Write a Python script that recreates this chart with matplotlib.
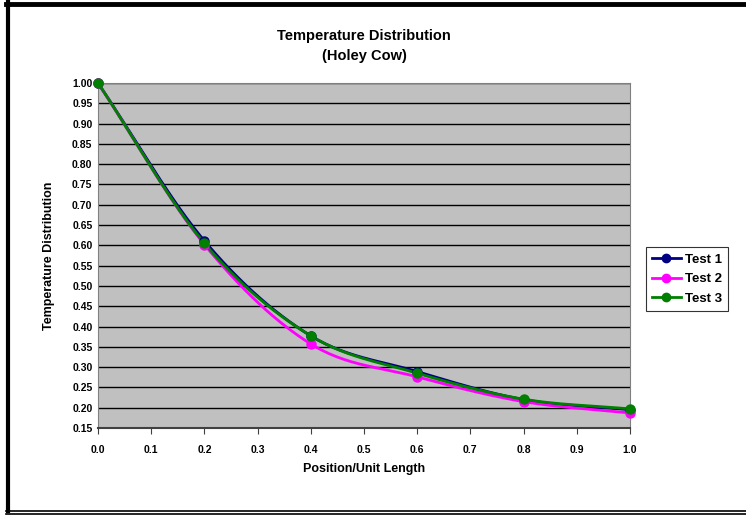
import numpy as np
import matplotlib.pyplot as plt
from matplotlib.lines import Line2D

plt.rcParams['font.family'] = ['Liberation Sans', 'DejaVu Sans']
plt.rcParams['font.weight'] = 'bold'

# data
position = [0.0, 0.2, 0.4, 0.6, 0.8, 1.0]
test1 = [1.000, 0.611, 0.377, 0.289, 0.220, 0.195]
test2 = [1.000, 0.602, 0.357, 0.276, 0.215, 0.187]
test3 = [1.000, 0.605, 0.377, 0.285, 0.221, 0.197]

series = [('Test 1', test1, '#000080'),
          ('Test 2', test2, '#FF00FF'),
          ('Test 3', test3, '#008000')]

yticks = np.arange(0.15, 1.0001, 0.05)
xticks = np.arange(0.0, 1.0001, 0.1)


def smooth(x, y, n=30):
    # excel-like smoothed line (catmull-rom through the points)
    x = np.asarray(x, float)
    y = np.asarray(y, float)
    px = np.concatenate([[2 * x[0] - x[1]], x, [2 * x[-1] - x[-2]]])
    py = np.concatenate([[2 * y[0] - y[1]], y, [2 * y[-1] - y[-2]]])
    xs, ys = [], []
    t = np.linspace(0, 1, n)
    for i in range(1, len(px) - 2):
        for p, out in ((px, xs), (py, ys)):
            p0, p1, p2, p3 = p[i - 1], p[i], p[i + 1], p[i + 2]
            out.extend(0.5 * ((2 * p1) + (-p0 + p2) * t
                              + (2 * p0 - 5 * p1 + 4 * p2 - p3) * t ** 2
                              + (-p0 + 3 * p1 - 3 * p2 + p3) * t ** 3))
    return xs, ys


fig = plt.figure(figsize=(7.46, 5.15), dpi=100)
ax = fig.add_axes([98 / 746, 1 - 428 / 515, 532 / 746, 345 / 515])
ax.set_facecolor('#C0C0C0')

for lbl, vals, col in series:
    sx, sy = smooth(position, vals)
    ax.plot(sx, sy, color=col, lw=2, zorder=3)
    ax.plot(position, vals, 'o', color=col, ms=6.5, zorder=4, clip_on=False)

ax.set_xlim(0, 1.0)
ax.set_ylim(0.15, 1.0)
ax.set_xticks(xticks)
ax.set_xticklabels(['%.1f' % v for v in xticks], fontsize=7.5, fontweight='bold')
ax.set_yticks(yticks)
ax.set_yticklabels(['%.2f' % v for v in yticks], fontsize=7.5, fontweight='bold')
ax.yaxis.grid(True, color='black', lw=1)
ax.set_axisbelow(True)
ax.tick_params(axis='x', length=4, color='#404040', pad=8)
ax.tick_params(axis='y', length=0, pad=4)
for s in ax.spines.values():
    s.set_color('#808080')
ax.spines['bottom'].set_color('#404040')
ax.spines['bottom'].set_linewidth(1.5)

ax.set_xlabel('Position/Unit Length', fontsize=9, fontweight='bold', labelpad=6)
ax.set_ylabel('Temperature Distribution', fontsize=9, fontweight='bold', labelpad=12)
fig.text(364 / 746, 1 - 46 / 515, 'Temperature Distribution\n(Holey Cow)',
         ha='center', va='center', fontsize=10.5, fontweight='bold', linespacing=1.5)

handles = [Line2D([], [], color=c, lw=2, marker='o', ms=6) for _, _, c in series]
leg = fig.legend(handles, [s[0] for s in series], loc='center',
                 bbox_to_anchor=(687 / 746, 1 - 279 / 515), frameon=True,
                 fancybox=False, edgecolor='black', handlelength=2.2,
                 handletextpad=0.3, borderpad=0.45, labelspacing=0.55,
                 prop={'size': 9.5, 'weight': 'bold'})
leg.get_frame().set_linewidth(0.8)

# outer border of the chart
fig.add_artist(Line2D([6 / 746, 1], [1 - 4 / 515] * 2, color='black', lw=3.5))
fig.add_artist(Line2D([8 / 746] * 2, [1 - 2 / 515, 1 - 511 / 515], color='black', lw=3))
fig.add_artist(Line2D([6 / 746, 1], [1 - 510.5 / 515] * 2, color='black', lw=1.2))
fig.add_artist(Line2D([6 / 746, 1], [1 - 513.5 / 515] * 2, color='black', lw=1.2))

fig.savefig('out.png', dpi=100)
